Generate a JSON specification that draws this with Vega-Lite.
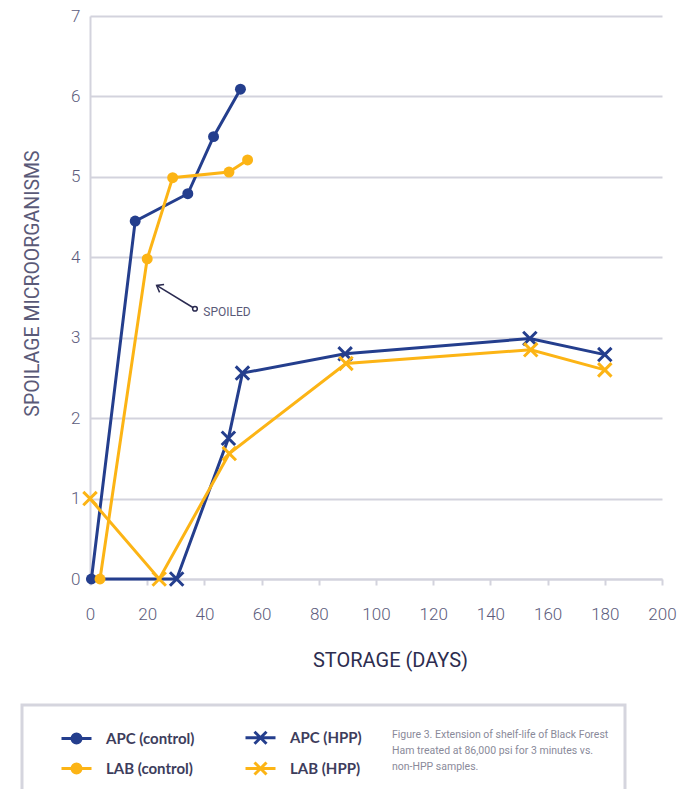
{
  "$schema": "https://vega.github.io/schema/vega-lite/v6.json",
  "background": "white",
  "padding": {"left": 20, "top": 7, "right": 5, "bottom": 0},
  "width": 572,
  "height": 563,
  "view": {"stroke": null},
  "datasets": {
    "obs": [
      {"series": "APC (control)", "treatment": "control", "day": 0.5, "count": 0},
      {"series": "APC (control)", "treatment": "control", "day": 15.8, "count": 4.45},
      {"series": "APC (control)", "treatment": "control", "day": 34.2, "count": 4.79},
      {"series": "APC (control)", "treatment": "control", "day": 43.2, "count": 5.5},
      {"series": "APC (control)", "treatment": "control", "day": 52.6, "count": 6.09},
      {"series": "LAB (control)", "treatment": "control", "day": 3.5, "count": 0},
      {"series": "LAB (control)", "treatment": "control", "day": 20.0, "count": 3.98},
      {"series": "LAB (control)", "treatment": "control", "day": 28.9, "count": 4.99},
      {"series": "LAB (control)", "treatment": "control", "day": 48.6, "count": 5.06},
      {"series": "LAB (control)", "treatment": "control", "day": 55.1, "count": 5.21},
      {"series": "APC (HPP)", "treatment": "HPP", "day": 0.5, "count": 0},
      {"series": "APC (HPP)", "treatment": "HPP", "day": 30.3, "count": 0},
      {"series": "APC (HPP)", "treatment": "HPP", "day": 48.4, "count": 1.75},
      {"series": "APC (HPP)", "treatment": "HPP", "day": 53.3, "count": 2.56},
      {"series": "APC (HPP)", "treatment": "HPP", "day": 89.2, "count": 2.8},
      {"series": "APC (HPP)", "treatment": "HPP", "day": 153.8, "count": 2.99},
      {"series": "APC (HPP)", "treatment": "HPP", "day": 180, "count": 2.79},
      {"series": "LAB (HPP)", "treatment": "HPP", "day": 0, "count": 1.0},
      {"series": "LAB (HPP)", "treatment": "HPP", "day": 24.2, "count": 0},
      {"series": "LAB (HPP)", "treatment": "HPP", "day": 48.7, "count": 1.56},
      {"series": "LAB (HPP)", "treatment": "HPP", "day": 89.5, "count": 2.68},
      {"series": "LAB (HPP)", "treatment": "HPP", "day": 154.1, "count": 2.85},
      {"series": "LAB (HPP)", "treatment": "HPP", "day": 180, "count": 2.6}
    ],
    "arrow": [
      {"x": 36.7, "y": 3.36, "x2": 23.3, "y2": 3.65, "label": "SPOILED", "tx": 39.6, "ty": 3.32}
    ]
  },
  "layer": [
    {
      "data": {"name": "obs"},
      "mark": {"type": "line", "strokeWidth": 3},
      "encoding": {
        "x": {
          "field": "day", "type": "quantitative",
          "scale": {"domain": [0, 200], "nice": false},
          "axis": {
            "values": [0, 20, 40, 60, 80, 100, 120, 140, 160, 180, 200],
            "title": "STORAGE (DAYS)",
            "grid": false,
            "labelFlush": false,
            "tickSize": 6,
            "labelPadding": 21,
            "titlePadding": 28,
            "titleX": 300,
            "titleFontSize": 20,
            "titleColor": "#2d2d4f"
          }
        },
        "y": {
          "field": "count", "type": "quantitative",
          "scale": {"domain": [0, 7], "nice": false},
          "axis": {
            "values": [0, 1, 2, 3, 4, 5, 6, 7],
            "format": "d",
            "title": "SPOILAGE MICROORGANISMS",
            "ticks": false,
            "labelFlush": false,
            "labelPadding": 10,
            "titlePadding": 28,
            "titleY": 267,
            "titleFontSize": 19.5,
            "titleColor": "#5a5a78"
          }
        },
        "color": {
          "field": "series", "type": "nominal",
          "scale": {
            "domain": ["APC (control)", "LAB (control)", "APC (HPP)", "LAB (HPP)"],
            "range": ["#243e8d", "#fcb415", "#243e8d", "#fcb415"]
          },
          "legend": {
            "orient": "none",
            "legendX": -68,
            "legendY": 689,
            "columns": 2,
            "title": ["Figure 3. Extension of shelf-life of Black Forest", "Ham treated at 86,000 psi for 3 minutes vs.", "non-HPP samples."],
            "titleOrient": "right",
            "titleAnchor": "middle",
            "titleAlign": "left",
            "titleBaseline": "middle",
            "titlePadding": 30,
            "titleFont": "Roboto",
            "titleFontSize": 10.5,
            "titleFontWeight": "normal",
            "titleColor": "#8a8a9a",
            "titleLineHeight": 16,
            "titleLimit": 400,
            "padding": 16,
            "strokeColor": "#d5d5de",
            "fillColor": "white",
            "symbolOffset": 22,
            "symbolSize": 900,
            "symbolStrokeWidth": 3,
            "labelOffset": 13,
            "labelFont": "Lato",
            "labelFontSize": 15,
            "labelFontWeight": "bold",
            "labelColor": "#3d3d5c",
            "labelLimit": 200,
            "columnPadding": 27,
            "rowPadding": 2,
            "encode": {
              "legend": {"update": {"strokeWidth": {"value": 3}}},
              "symbols": {
                "update": {
                  "shape": {"signal": "indexof(datum.value, 'HPP') >= 0 ? 'M-1,0L1,0M-0.4,-0.4L0.4,0.4M-0.4,0.4L0.4,-0.4' : 'M-1,0L1,0M-0.3,0A0.3,0.3 0 1,1 0.3,0A0.3,0.3 0 1,1 -0.3,0Z'"},
                  "fill": {"signal": "indexof(datum.value, 'HPP') >= 0 ? 'transparent' : scale('color', datum.value)"},
                  "stroke": {"signal": "scale('color', datum.value)"},
                  "strokeWidth": {"value": 3},
                  "size": {"value": 900},
                  "opacity": {"value": 1}
                }
              }
            }
          }
        }
      }
    },
    {
      "data": {"name": "obs"},
      "transform": [{"filter": "datum.treatment == 'control'"}],
      "mark": {"type": "point", "filled": true, "opacity": 1, "shape": "circle", "size": 120},
      "encoding": {
        "x": {"field": "day", "type": "quantitative"},
        "y": {"field": "count", "type": "quantitative"},
        "color": {"field": "series", "type": "nominal"}
      }
    },
    {
      "data": {"name": "obs"},
      "transform": [
        {"filter": "datum.treatment == 'HPP'"},
        {"filter": "!(datum.series == 'APC (HPP)' && datum.day < 1)"}
      ],
      "mark": {"type": "point", "filled": false, "opacity": 1, "shape": "M-1,-1L1,1M-1,1L1,-1", "size": 180, "strokeWidth": 3},
      "encoding": {
        "x": {"field": "day", "type": "quantitative"},
        "y": {"field": "count", "type": "quantitative"},
        "color": {"field": "series", "type": "nominal"}
      }
    },
    {
      "data": {"name": "arrow"},
      "mark": {"type": "rule", "color": "#2a2a50", "strokeWidth": 1.5},
      "encoding": {
        "x": {"field": "x", "type": "quantitative"},
        "y": {"field": "y", "type": "quantitative"},
        "x2": {"field": "x2"},
        "y2": {"field": "y2"}
      }
    },
    {
      "data": {"name": "arrow"},
      "mark": {"type": "point", "filled": false, "opacity": 1, "shape": "M-1,-0.75L0,0L-1,0.75", "size": 144, "angle": 210, "color": "#2a2a50", "strokeWidth": 1.5},
      "encoding": {
        "x": {"field": "x2", "type": "quantitative"},
        "y": {"field": "y2", "type": "quantitative"}
      }
    },
    {
      "data": {"name": "arrow"},
      "mark": {"type": "point", "filled": true, "opacity": 1, "shape": "circle", "size": 22, "fill": "white", "stroke": "#2a2a50", "strokeWidth": 1.5},
      "encoding": {
        "x": {"field": "x", "type": "quantitative"},
        "y": {"field": "y", "type": "quantitative"}
      }
    },
    {
      "data": {"name": "arrow"},
      "mark": {"type": "text", "align": "left", "baseline": "middle", "fontSize": 12, "font": "Roboto", "color": "#5a5a78"},
      "encoding": {
        "x": {"field": "tx", "type": "quantitative"},
        "y": {"field": "ty", "type": "quantitative"},
        "text": {"field": "label"}
      }
    }
  ],
  "config": {
    "font": "Roboto",
    "axis": {
      "labelFont": "Roboto",
      "labelFontSize": 17,
      "labelFontWeight": 300,
      "labelColor": "#5c5c7c",
      "titleFont": "Roboto",
      "titleFontWeight": 400,
      "domainColor": "#d3d3dd",
      "domainWidth": 2,
      "tickColor": "#d3d3dd",
      "tickWidth": 2,
      "gridColor": "#d3d3dd",
      "gridWidth": 2
    }
  }
}
